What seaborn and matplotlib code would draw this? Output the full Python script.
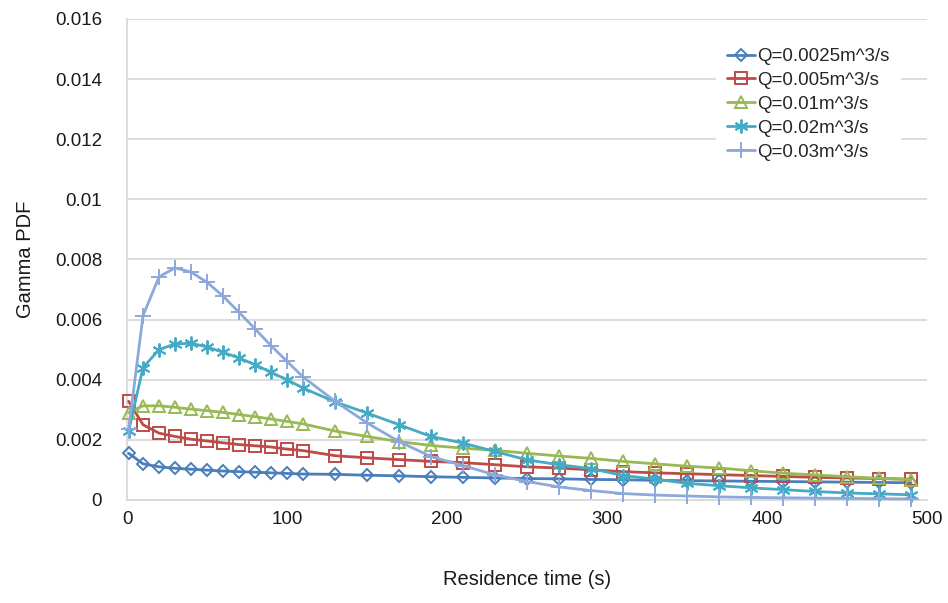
import numpy as np
import pandas as pd
import matplotlib
matplotlib.use("Agg")
import matplotlib.pyplot as plt
import seaborn as sns

# Residence times (s) at which the gamma PDF is sampled
times = [1, 10, 20, 30, 40, 50, 60, 70, 80, 90, 100, 110,
         130, 150, 170, 190, 210, 230, 250, 270, 290, 310,
         330, 350, 370, 390, 410, 430, 450, 470, 490]

series_labels = ["Q=0.0025m^3/s", "Q=0.005m^3/s", "Q=0.01m^3/s",
                 "Q=0.02m^3/s", "Q=0.03m^3/s"]

pdf_q0025 = [0.00155, 0.00120, 0.00110, 0.00105, 0.00102, 0.00099, 0.00096,
             0.00094, 0.00092, 0.00090, 0.00088, 0.00086,
             0.00085, 0.00082, 0.00080, 0.00077, 0.00075, 0.00073, 0.00071,
             0.00070, 0.00068, 0.00067, 0.00065, 0.00064, 0.00063, 0.00062,
             0.00061, 0.00060, 0.00059, 0.00058, 0.00057]

pdf_q005 = [0.00328, 0.00250, 0.00222, 0.00211, 0.00202, 0.00196, 0.00190,
            0.00184, 0.00180, 0.00176, 0.00169, 0.00164,
            0.00147, 0.00140, 0.00134, 0.00128, 0.00124, 0.00117, 0.00110,
            0.00106, 0.00100, 0.00094, 0.00090, 0.00087, 0.00084, 0.00081,
            0.00078, 0.00075, 0.00073, 0.00071, 0.00069]

pdf_q01 = [0.00290, 0.00313, 0.00313, 0.00308, 0.00302, 0.00297, 0.00291,
           0.00284, 0.00277, 0.00269, 0.00261, 0.00253,
           0.00229, 0.00211, 0.00194, 0.00181, 0.00172, 0.00165, 0.00155,
           0.00146, 0.00138, 0.00128, 0.00120, 0.00112, 0.00106, 0.00097,
           0.00089, 0.00083, 0.00077, 0.00072, 0.00067]

pdf_q02 = [0.00230, 0.00440, 0.00500, 0.00519, 0.00521, 0.00509, 0.00491,
           0.00472, 0.00450, 0.00424, 0.00400, 0.00372,
           0.00326, 0.00289, 0.00250, 0.00211, 0.00189, 0.00161, 0.00133,
           0.00117, 0.00104, 0.00081, 0.00069, 0.00055, 0.00047, 0.00040,
           0.00034, 0.00028, 0.00023, 0.00020, 0.00017]

pdf_q03 = [0.00235, 0.00613, 0.00742, 0.00772, 0.00758, 0.00724, 0.00678,
           0.00624, 0.00569, 0.00513, 0.00461, 0.00409,
           0.00328, 0.00256, 0.00194, 0.00144, 0.00114, 0.00083, 0.00061,
           0.00043, 0.00031, 0.00021, 0.00016, 0.00013, 0.00010, 0.00008,
           0.00007, 0.00006, 0.00005, 0.00004, 0.00003]

series_values = [pdf_q0025, pdf_q005, pdf_q01, pdf_q02, pdf_q03]

colors = ["#4A7EBB", "#BE4B48", "#98B954", "#46AAC5", "#8DA8DA"]
markers = ["D", "s", "^", (6, 2, 0), "+"]
marker_sizes = [6.5, 8.5, 8, 10, 11]

sns.set_theme(style="white")
plt.rcParams["font.family"] = ["Liberation Sans", "DejaVu Sans"]

fig = plt.figure(figsize=(9.48, 6.03), dpi=100)
ax = fig.add_axes([0.134, 0.171, 0.844, 0.7975])

for label, vals, c, m, ms in zip(series_labels, series_values, colors,
                                 markers, marker_sizes):
    df = pd.DataFrame({"t": times, "pdf": vals})
    sns.lineplot(data=df, x="t", y="pdf", ax=ax, color=c, linewidth=2,
                 marker=m, markersize=ms, markeredgecolor=c,
                 markerfacecolor="none", markeredgewidth=1.4,
                 label=label, zorder=3, clip_on=False)

ax.set_xlim(0, 500)
ax.set_ylim(0, 0.016)
ax.set_xticks([0, 100, 200, 300, 400, 500])
ax.set_yticks(np.arange(0, 0.0161, 0.002))
ax.set_yticklabels(["0", "0.002", "0.004", "0.006", "0.008", "0.01",
                    "0.012", "0.014", "0.016"])

ax.yaxis.grid(True, color="#D9D9D9", linewidth=1.3)
ax.xaxis.grid(False)
for side in ["top", "right"]:
    ax.spines[side].set_visible(False)
for side in ["left", "bottom"]:
    ax.spines[side].set_color("#D9D9D9")
    ax.spines[side].set_linewidth(1.3)

text_color = "#1a1a1a"
ax.tick_params(axis="y", length=0, pad=18, labelsize=13.5, labelcolor=text_color)
ax.tick_params(axis="x", length=0, pad=8, labelsize=13.5, labelcolor=text_color)

ax.set_xlabel("Residence time (s)", fontsize=14.5, labelpad=30, color=text_color)
ax.set_ylabel("Gamma PDF", fontsize=14.5, labelpad=14, color=text_color)

handles, labels = ax.get_legend_handles_labels()
ax.legend(handles, labels, loc="upper left", bbox_to_anchor=(0.736, 0.963),
          borderaxespad=0, frameon=True, facecolor="white", edgecolor="none",
          framealpha=1, fontsize=13.5, handlelength=1.5, handletextpad=0.1,
          labelspacing=0.36, borderpad=0.6)

fig.savefig("out.png", dpi=100, facecolor="white")
